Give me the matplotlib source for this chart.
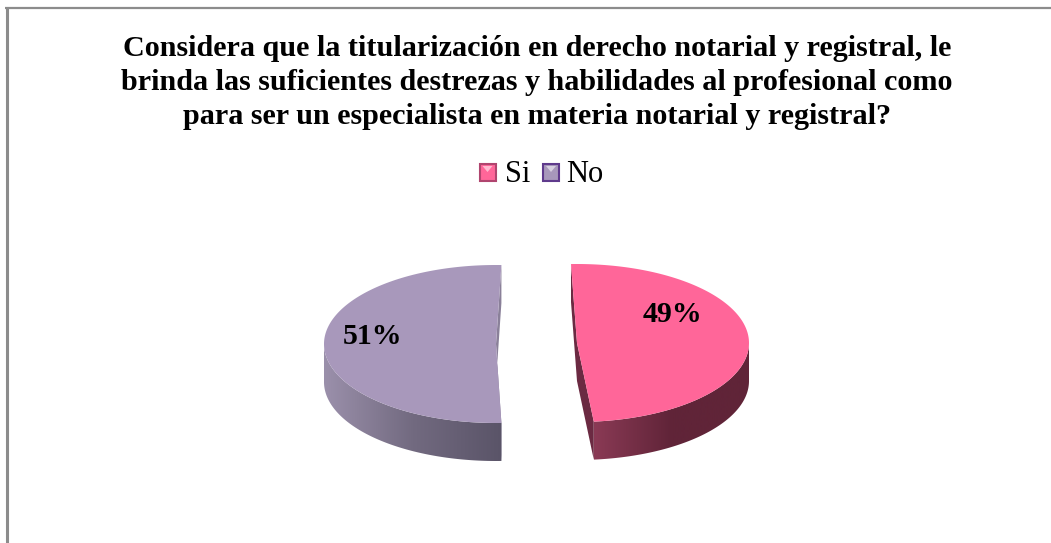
import numpy as np
import matplotlib
matplotlib.use('Agg')
import matplotlib.pyplot as plt
from matplotlib.patches import Polygon, Rectangle
from matplotlib.colors import LinearSegmentedColormap

# data
labels = ['Si', 'No']
shares = [49, 51]
pct_labels = ['49%', '51%']
title_lines = ['Considera que la titularización en derecho notarial y registral, le',
               'brinda las suficientes destrezas y habilidades al profesional como',
               'para ser un especialista en materia notarial y registral?']

fig = plt.figure(figsize=(10.51, 5.43), dpi=100)
ax = fig.add_axes([0, 0, 1, 1])
ax.set_xlim(0, 1051)
ax.set_ylim(543, 0)
ax.axis('off')
plt.rcParams['font.family'] = ['Liberation Serif', 'DejaVu Serif']

# border, only top and left show
ax.plot([6.5, 6.5], [543, 7], color='#8c8c8c', lw=2.2, solid_capstyle='butt')
ax.plot([5, 1051], [8, 8], color='#8c8c8c', lw=1.6, solid_capstyle='butt')

# title
for txt, y in zip(title_lines, [48, 83, 117]):
    ax.text(537, y, txt, ha='center', va='center', fontsize=21.7, fontweight='bold', color='black')

# slice settings: centre x, start angle, top colour, wall colours
slices = [
    dict(cx=577, start=-2, top='#ff6699', walls=['#8a3a55', '#602438', '#602438'], cut='#6b2a42', rx=172, cy=343),
    dict(cx=496, start=178.2, top='#a898bb', walls=['#9b90ab', '#726a80', '#5a5468'], cut='#8a8099', rx=172, cy=344),
]
ry = 79
depth = 38


def rim(s, share):
    a = np.radians(np.linspace(s['start'], s['start'] + share * 3.6, 200))
    return s['cx'] + s['rx'] * np.sin(a), s['cy'] - ry * np.cos(a)


for s, share in zip(slices, shares):
    x, y = rim(s, share)
    # outer wall, only the part of the rim facing down
    down = np.cos(np.radians(np.linspace(s['start'], s['start'] + share * 3.6, 200))) < 0
    wx, wy = x[down], y[down]
    wall_pts = np.r_[np.c_[wx, wy], np.c_[wx, wy + depth][::-1]]
    cmap = LinearSegmentedColormap.from_list('w', s['walls'])
    im = ax.imshow(np.linspace(0, 1, 256)[None, :], extent=[wx.min(), wx.max(), 543, 0],
                   cmap=cmap, aspect='auto', zorder=2)
    im.set_clip_path(Polygon(wall_pts, transform=ax.transData))
    # cut faces between the rim ends and the centre
    apex = (s['cx'], s['cy'])
    ends = [(x[0], y[0]), (x[-1], y[-1])]
    cut = [ends[0], apex, ends[1], (ends[1][0], ends[1][1] + depth), (apex[0], apex[1] + depth), (ends[0][0], ends[0][1] + depth)]
    ax.add_patch(Polygon(cut, closed=True, fc=s['cut'], ec='none', zorder=1.5))
    # top face
    ax.add_patch(Polygon(np.r_[[apex], np.c_[x, y]], closed=True, fc=s['top'], ec='none', zorder=3))

ax.set_xlim(0, 1051)
ax.set_ylim(543, 0)

# percent labels
ax.text(672, 314, pct_labels[0], ha='center', va='center', fontsize=21.5, fontweight='bold', color='black', zorder=4)
ax.text(373, 337, pct_labels[1], ha='center', va='center', fontsize=21.5, fontweight='bold', color='black', zorder=4)

# legend keys with the small glossy highlight
for x0, fc, ec in [(479.5, '#ff6699', '#b0456f'), (543, '#a898bb', '#5f3a8c')]:
    ax.add_patch(Rectangle((x0, 164), 16, 17, fc=fc, ec=ec, lw=1.5, zorder=3))
    ax.add_patch(Polygon([(x0 + 3, 166), (x0 + 13, 166), (x0 + 8, 172)], closed=True, fc='white', alpha=0.55, ec='none', zorder=4))
ax.text(505, 174, labels[0], ha='left', va='center', fontsize=22, color='black')
ax.text(566, 174, labels[1], ha='left', va='center', fontsize=22, color='black')

fig.savefig('out.png', dpi=100)
